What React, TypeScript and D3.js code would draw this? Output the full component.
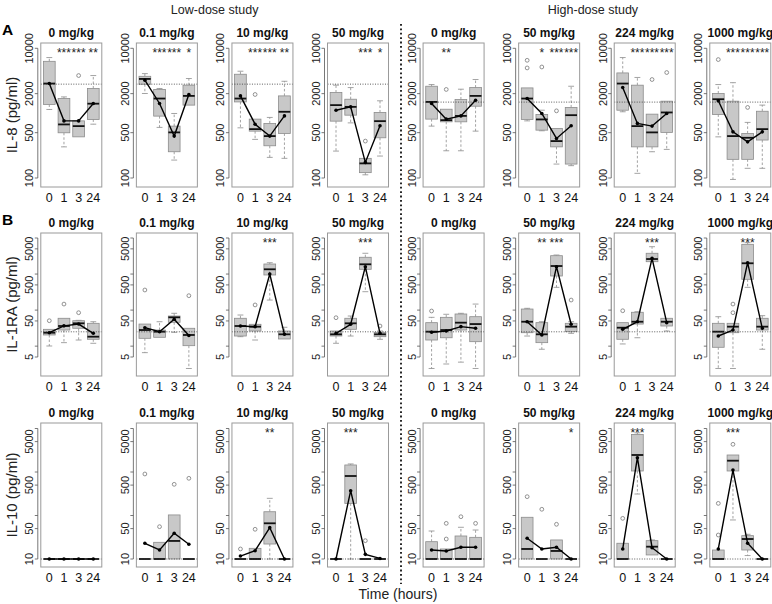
import React from "react";
import * as d3 from "d3";

// ---------- DATA ----------
const times = ["0", "1", "3", "24"];
const doses = ["0 mg/kg", "0.1 mg/kg", "10 mg/kg", "50 mg/kg", "0 mg/kg", "50 mg/kg", "224 mg/kg", "1000 mg/kg"];
const studies = ["Low-dose study", "High-dose study"];
const rowTitles = ["IL-8 (pg/ml)", "IL-1RA (pg/ml)", "IL-10 (pg/ml)"];
const rowLetters = ["A", "B", ""];
const xTitle = "Time (hours)";

// each group: [whiskerLow, q1, median, q3, whiskerHigh, mean]
const il8Stats = [
  [[1140, 1360, 2860, 6300, 7200, 2860], [302, 498, 670, 1680, 1780, 760], [431, 431, 631, 760, 760, 760], [676, 800, 1400, 2400, 3800, 1410]],
  [[2010, 2790, 3370, 3700, 4070, 3220], [603, 900, 1680, 2320, 2400, 1410], [189, 254, 505, 631, 988, 443], [1330, 1330, 1845, 2700, 3420, 1940]],
  [[594, 1490, 1680, 3980, 4430, 1845], [394, 528, 567, 809, 809, 676], [208, 314, 443, 695, 859, 443], [201, 487, 1050, 1845, 3100, 907]],
  [[260, 753, 1330, 2080, 2700, 1110], [708, 931, 1250, 1640, 2480, 1250], [112, 121, 168, 201, 201, 174], [218, 417, 753, 1025, 1550, 638]],
  [[631, 809, 1490, 2600, 2760, 1410], [263, 735, 780, 1150, 1150, 809], [263, 735, 907, 1625, 2340, 907], [528, 1280, 1845, 2480, 3300, 1585]],
  [[760, 800, 1680, 2450, 2450, 1680], [535, 547, 800, 955, 1110, 988], [164, 302, 371, 582, 582, 407], [155, 164, 931, 1225, 2600, 638]],
  [[1050, 1110, 2860, 4170, 7200, 2480], [118, 302, 631, 2700, 3550, 695], [254, 302, 505, 965, 965, 631], [276, 505, 1025, 1530, 1530, 988]],
  [[431, 955, 1640, 2010, 2760, 1550], [95, 194, 443, 1530, 2950, 515], [141, 194, 417, 487, 720, 361], [141, 385, 567, 1070, 1330, 515]],
];
const il8Outliers = [
  [[], [], [3800], []],
  [[], [], [], []],
  [[], [1940], [], []],
  [[], [], [371], []],
  [[], [2320], [], []],
  [[6530, 4980], [5150], [1085], []],
  [[], [], [3300], [4230]],
  [[6700], [], [1225], []],
];
const il8Stars = [
  ["", "***", "***", "**"], ["", "***", "***", "*"], ["", "***", "***", "**"], ["", "", "***", "*"],
  ["", "**", "", ""], ["", "*", "***", "***"], ["", "***", "***", "***"], ["", "***", "***", "***"],
];
const il8Ticks = [100, 500, 2000, 10000];
const il8TickLabels = ["100", "500", "2000", "10000"];
const il8Ref = [2800, 1480];

const il1raStats = [
  [[10.1, 20.4, 23.6, 29.3, 29.3, 23.6], [12.5, 28, 36.2, 59.3, 59.3, 36.6], [14.8, 31.3, 43, 50.8, 52, 41], [12, 15.5, 18.3, 43, 47.6, 22.7]],
  [[6.6, 16.5, 28, 41, 41, 32.5], [17.6, 17.6, 25.2, 28, 47.6, 25.2], [24.2, 45.9, 63, 68.5, 81.5, 55.6], [2.4, 10.3, 20.4, 31.3, 31.3, 19.8]],
  [[18.3, 19.1, 36.2, 59.3, 73, 36.2], [14.8, 26.3, 34.7, 40.4, 40.4, 34.7], [190, 942, 1355, 1900, 2065, 998], [15.8, 15.8, 21.3, 26.3, 33.4, 21.3]],
  [[12, 19.1, 21.3, 26.3, 26.3, 22.7], [19.1, 29.3, 43, 59.3, 68.5, 40.4], [324, 1355, 1865, 2920, 3770, 1600], [15.5, 18.3, 21.3, 24.2, 26.3, 22.7]],
  [[2.4, 14.8, 25.2, 44.8, 63, 24.2], [3.2, 17.1, 28, 63, 76.5, 26.3], [3.6, 28, 44.8, 78, 81.5, 34.7], [2.4, 13.3, 41, 65.6, 147, 31.3]],
  [[19.1, 23.6, 47.6, 107, 112, 47.6], [8.2, 12.5, 21.3, 44.8, 47.6, 20.4], [428, 883, 1670, 3230, 3370, 1600], [22.7, 25.2, 34.7, 43, 47.6, 40.4]],
  [[11.5, 15.5, 32.5, 44.8, 44.8, 29.3], [17.1, 41, 47.6, 87, 90, 47.6], [2200, 2200, 2610, 3770, 5740, 2730], [26.3, 36.2, 47.6, 59.3, 59.3, 44.8]],
  [[2.4, 9.3, 25.2, 43, 65.6, 19.1], [2.4, 23.6, 34.7, 43, 43, 28], [428, 715, 1990, 6680, 7420, 2065], [8.2, 28, 34.7, 59.3, 70, 31.3]],
];
const il1raOutliers = [
  [[50.8], [147], [84.7], []],
  [[361], [], [], [251]],
  [[], [139], [], []],
  [[61.5], [], [], [36.2]],
  [[94.4], [], [], []],
  [[], [], [], [190]],
  [[96], [], [], []],
  [[], [147, 84.7], [], []],
];
const il1raStars = [
  ["", "", "", ""], ["", "", "", ""], ["", "", "***", ""], ["", "", "***", ""],
  ["", "", "", ""], ["", "**", "***", ""], ["", "", "***", ""], ["", "", "***", ""],
];
const il1raTicks = [5, 10, 50, 100, 500, 1000, 5000, 10000];
const il1raTickLabels = ["5", "", "50", "", "500", "", "5000", ""];
const il1raRef = [25, 25];

const il10Stats = [
  [[10, 10, 10, 10, 10, 10], [10, 10, 10, 10, 10, 10], [10, 10, 10, 10, 10, 10], [10, 10, 10, 10, 10, 10]],
  [[10, 10, 10, 10, 10, 23], [10, 10, 10, 24.2, 24.2, 16.1], [10, 10, 26, 103, 103, 39], [10, 10, 10, 10, 10, 21.8]],
  [[10, 10, 10, 10, 10, 11.7], [10, 10, 10, 17.6, 17.6, 15.5], [10, 22.1, 66.2, 122, 248, 52.5], [10, 10, 10, 10, 10, 10]],
  [[10, 10, 10, 10, 10, 10], [10, 190, 809, 1450, 1530, 372], [10, 10, 10, 10, 10, 12.8], [10, 10, 10, 10, 10, 10.3]],
  [[10, 10, 10, 25, 44, 16.1], [10, 10, 10, 17, 17, 15.3], [10, 10, 10, 33.8, 53.6, 18.6], [10, 10, 10, 31.5, 46.4, 18.6]],
  [[10, 10, 17, 91, 91, 29.9], [10, 10, 10, 10, 10, 17], [10, 10, 15.3, 27.4, 27.4, 18.6], [10, 10, 10, 10, 10, 10]],
  [[10, 10, 10, 23, 23, 17], [312, 1055, 2460, 7300, 7940, 2130], [12.4, 12.4, 19.2, 26.4, 27.4, 18.2], [10, 10, 10, 10, 10, 10]],
  [[10, 10, 10, 16.1, 16.1, 17], [79, 1055, 1820, 2460, 2460, 1110], [12, 16.1, 28.8, 34.4, 37, 23], [10, 10, 10, 10, 10, 10]],
];
const il10Outliers = [
  [[], [], [], []],
  [[900], [55.3], [521], [716]],
  [[17], [48.2], [], []],
  [[], [], [26.4], []],
  [[], [66, 28.8], [93.8], [66]],
  [[271], [139], [62.8], []],
  [[86], [], [], []],
  [[190, 35.6], [4330], [], []],
];
const il10Stars = [
  ["", "", "", ""], ["", "", "", ""], ["", "", "**", ""], ["", "***", "", ""],
  ["", "", "", ""], ["", "", "", "*"], ["", "***", "", ""], ["", "***", "", ""],
];
const il10Ticks = [10, 50, 100, 500, 1000, 5000, 10000];
const il10TickLabels = ["10", "50", "", "500", "", "5000", ""];
const il10Ref = [10, 10];

// ---------- LAYOUT ----------
const FONT = "'Liberation Sans', Arial, Helvetica, sans-serif";
const W = 772;
const H = 604;
const PANEL_X0 = 40.8;
const PANEL_STEP = 95.57;
const PANEL_W = 61;

const rows = [
  { stats: il8Stats, outl: il8Outliers, stars: il8Stars, ticks: il8Ticks, tickLabels: il8TickLabels, ref: il8Ref, top: 43, bottom: 187, dom: [100, 10000], rng: [178, 48.3] },
  { stats: il1raStats, outl: il1raOutliers, stars: il1raStars, ticks: il1raTicks, tickLabels: il1raTickLabels, ref: il1raRef, top: 233, bottom: 376, dom: [5, 10000], rng: [357, 238] },
  { stats: il10Stats, outl: il10Outliers, stars: il10Stars, ticks: il10Ticks, tickLabels: il10TickLabels, ref: il10Ref, top: 423, bottom: 567, dom: [10, 10000], rng: [559, 428.5] },
];

const BOX_FILL = "#c8c8c8";
const BOX_STROKE = "#8c8c8c";
const FRAME = "#9a9a9a";

function Panel({ row, p }: { row: any; p: number }) {
  const L = PANEL_X0 + p * PANEL_STEP;
  const x = d3.scaleLinear().domain([0.42, 4.58]).range([L, L + PANEL_W]);
  const y = d3.scaleLog().domain(row.dom).range(row.rng);
  const stats: number[][] = row.stats[p];
  const refVal = row.ref[p < 4 ? 0 : 1];
  const axisX = L - 3;
  const line = d3
    .line<number[]>()
    .x((_, i) => x(i + 1))
    .y((d) => y(d[5]));
  return (
    <g>
      <text x={L + PANEL_W / 2} y={row.top - 6} textAnchor="middle" fontSize={12} fontWeight="bold" fontFamily={FONT} fill="#111">
        {doses[p]}
      </text>
      <line x1={axisX} x2={axisX} y1={y(row.ticks[0])} y2={y(row.ticks[row.ticks.length - 1])} stroke="#555" strokeWidth={0.8} />
      {row.ticks.map((t: number, i: number) => (
        <g key={"t" + i}>
          <line x1={axisX - 3} x2={axisX} y1={y(t)} y2={y(t)} stroke="#555" strokeWidth={0.8} />
          {row.tickLabels[i] && (
            <text
              x={axisX - 4.5}
              y={y(t)}
              transform={`rotate(-90, ${axisX - 4.5}, ${y(t)})`}
              textAnchor="middle"
              fontSize={11}
              fontFamily={FONT}
              fill="#222"
            >
              {row.tickLabels[i]}
            </text>
          )}
        </g>
      ))}
      {times.map((t, i) => (
        <text key={"x" + i} x={x(i + 1)} y={row.bottom + 15} textAnchor="middle" fontSize={12.5} fontFamily={FONT} fill="#111">
          {t}
        </text>
      ))}
      {stats.map((s, i) => {
        const c = i + 1;
        const [lo, q1, med, q3, hi] = s;
        return (
          <g key={"b" + i}>
            {hi > q3 && (
              <>
                <line x1={x(c)} x2={x(c)} y1={y(q3)} y2={y(hi)} stroke={BOX_STROKE} strokeWidth={0.8} strokeDasharray="2.5,2" />
                <line x1={x(c - 0.2)} x2={x(c + 0.2)} y1={y(hi)} y2={y(hi)} stroke={BOX_STROKE} strokeWidth={0.8} />
              </>
            )}
            {lo < q1 && (
              <>
                <line x1={x(c)} x2={x(c)} y1={y(q1)} y2={y(lo)} stroke={BOX_STROKE} strokeWidth={0.8} strokeDasharray="2.5,2" />
                <line x1={x(c - 0.2)} x2={x(c + 0.2)} y1={y(lo)} y2={y(lo)} stroke={BOX_STROKE} strokeWidth={0.8} />
              </>
            )}
            {q3 > q1 && (
              <rect x={x(c - 0.4)} y={y(q3)} width={x(c + 0.4) - x(c - 0.4)} height={y(q1) - y(q3)} fill={BOX_FILL} stroke={BOX_STROKE} strokeWidth={0.8} />
            )}
            <line x1={x(c - 0.4)} x2={x(c + 0.4)} y1={y(med)} y2={y(med)} stroke="#111" strokeWidth={1.8} />
          </g>
        );
      })}
      <line x1={L} x2={L + PANEL_W} y1={y(refVal)} y2={y(refVal)} stroke="#333" strokeWidth={0.8} strokeDasharray="1,1.5" />
      {row.outl[p].map((arr: number[], i: number) =>
        arr.map((v, j) => <circle key={`o${i}-${j}`} cx={x(i + 1)} cy={y(v)} r={1.9} fill="none" stroke="#777" strokeWidth={0.8} />)
      )}
      <path d={line(stats) || ""} fill="none" stroke="#000" strokeWidth={1.4} />
      {stats.map((s, i) => (
        <circle key={"m" + i} cx={x(i + 1)} cy={y(s[5])} r={1.8} fill="#000" />
      ))}
      {row.stars[p].map((s: string, i: number) =>
        s ? (
          <text key={"s" + i} x={x(i + 1)} y={row.top + 14} textAnchor="middle" fontSize={12} fontFamily={FONT} fill="#222">
            {s}
          </text>
        ) : null
      )}
      <rect x={L} y={row.top} width={PANEL_W} height={row.bottom - row.top} fill="none" stroke={FRAME} strokeWidth={1} />
    </g>
  );
}

export default function App() {
  const lowCenter = PANEL_X0 + (3 * PANEL_STEP + PANEL_W) / 2;
  const highCenter = PANEL_X0 + 4 * PANEL_STEP + (3 * PANEL_STEP + PANEL_W) / 2 - 4;
  return (
    <svg width={W} height={H} style={{ position: "absolute", left: 0, top: 0, background: "#fff" }}>
      <rect width={W} height={H} fill="#fff" />
      <text x={lowCenter} y={14} textAnchor="middle" fontSize={12.5} fontFamily={FONT} fill="#222">{studies[0]}</text>
      <text x={highCenter} y={14} textAnchor="middle" fontSize={12.5} fontFamily={FONT} fill="#222">{studies[1]}</text>
      <line x1={401} x2={401} y1={24} y2={584} stroke="#111" strokeWidth={1.8} strokeDasharray="1.8,2.6" />
      {rows.map((row, r) => (
        <g key={"r" + r}>
          {rowLetters[r] && (
            <text x={2} y={row.top - 8} fontSize={15.5} fontWeight="bold" fontFamily={FONT} fill="#000">{rowLetters[r]}</text>
          )}
          <text
            x={17}
            y={(row.top + row.bottom) / 2}
            transform={`rotate(-90, 17, ${(row.top + row.bottom) / 2})`}
            textAnchor="middle"
            fontSize={15}
            fontFamily={FONT}
            fill="#222"
          >
            {rowTitles[r]}
          </text>
          {doses.map((_, p) => (
            <Panel key={"p" + p} row={row} p={p} />
          ))}
        </g>
      ))}
      <text x={398} y={599} textAnchor="middle" fontSize={14} fontFamily={FONT} fill="#222">{xTitle}</text>
    </svg>
  );
}
